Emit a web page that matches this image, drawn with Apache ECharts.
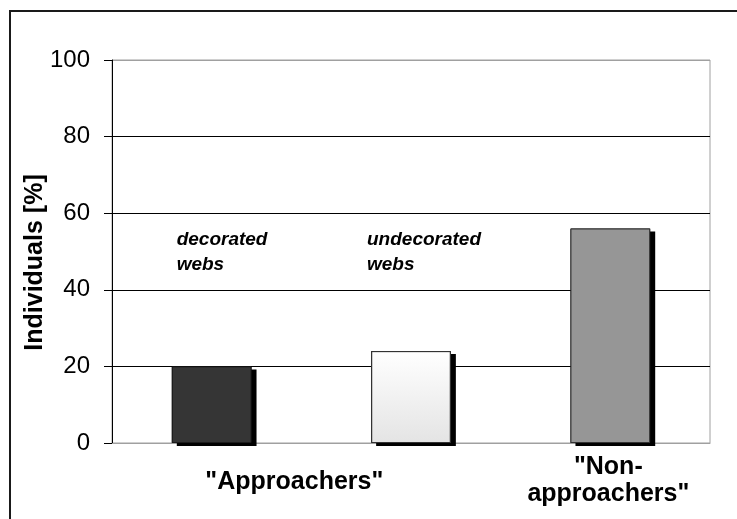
<!DOCTYPE html>
<html>
<head>
<meta charset="utf-8">
<script src="https://cdn.jsdelivr.net/npm/echarts@6/dist/echarts.min.js"></script>
<style>
html,body{margin:0;padding:0;background:#fff;}
#chart{width:737px;height:519px;}
</style>
</head>
<body>
<div id="chart"></div>
<script>
const categories = ['decorated webs', 'undecorated webs', 'Non-approachers'];
const values = [20, 24, 56];
const groupLabels = ['"Approachers"', '"Non-\napproachers"'];
const noteLabels = ['decorated\nwebs', 'undecorated\nwebs'];
const yTicks = [0, 20, 40, 60, 80, 100];
const yAxisTitle = 'Individuals [%]';

const barFills = [
  '#353535',
  { type: 'linear', x: 0, y: 0, x2: 0, y2: 1, colorStops: [{ offset: 0, color: '#ffffff' }, { offset: 1, color: '#e4e4e4' }] },
  '#969696'
];
const barBorders = ['#1c1c1c', '#333333', '#333333'];

const chart = echarts.init(document.getElementById('chart'));
const FONT = 'Liberation Sans, Arial, sans-serif';

chart.setOption({
  animation: false,
  grid: { left: 112, right: 27, top: 60, bottom: 76, show: true, borderColor: '#a0a0a0', borderWidth: 1, backgroundColor: 'transparent' },
  xAxis: {
    type: 'category',
    data: categories,
    axisLine: { show: true, lineStyle: { color: '#a0a0a0', width: 1 } },
    axisTick: { show: false },
    axisLabel: { show: false },
    splitLine: { show: false }
  },
  yAxis: {
    type: 'value',
    min: yTicks[0],
    max: yTicks[yTicks.length - 1],
    interval: 20,
    axisLine: { show: true, lineStyle: { color: '#000', width: 1 } },
    axisTick: { show: true, length: 8, lineStyle: { color: '#000', width: 1 } },
    axisLabel: { margin: 22, fontFamily: FONT, fontSize: 24, color: '#000' },
    splitLine: { show: true, lineStyle: { color: ['#a0a0a0', '#000', '#000', '#000', '#000', '#a0a0a0'], width: 1 } }
  },
  series: [
    {
      type: 'bar',
      barWidth: '40%',
      silent: true,
      z: 2,
      data: values.map((v, i) => ({
        value: v,
        itemStyle: {
          color: '#000',
          borderWidth: 0,
          shadowColor: '#000',
          shadowBlur: 0,
          shadowOffsetX: 5,
          shadowOffsetY: 3
        }
      }))
    },
    {
      type: 'bar',
      barWidth: '40%',
      barGap: '-100%',
      z: 3,
      data: values.map((v, i) => ({
        value: v,
        itemStyle: {
          color: barFills[i],
          borderColor: barBorders[i],
          borderWidth: 1
        }
      }))
    }
  ]
});

function px(idx, val) {
  return chart.convertToPixel({ gridIndex: 0 }, [idx, val]);
}
const p0 = px(0, 0), p1 = px(1, 0), p2 = px(2, 0);
const n0 = px(0, 50), n1 = px(1, 50);
const mid = px(0, 50);

chart.setOption({
  graphic: [
    { type: 'rect', silent: true, z: 100, shape: { x: 10, y: 11, width: 1000, height: 1000 }, style: { fill: 'none', stroke: '#1a1a1a', lineWidth: 2 } },
    { type: 'text', silent: true, x: 35, y: mid[1] + 11, rotation: Math.PI / 2, style: { text: yAxisTitle, font: 'bold 25px ' + FONT, fill: '#000', align: 'center', verticalAlign: 'middle' } },
    { type: 'text', silent: true, x: (p0[0] + p1[0]) / 2 - 17, y: 482, style: { text: groupLabels[0], font: 'bold 25px ' + FONT, fill: '#000', align: 'center', verticalAlign: 'middle' } },
    { type: 'text', silent: true, x: p2[0] - 2, y: 481, style: { text: groupLabels[1], font: 'bold 25px ' + FONT, fill: '#000', align: 'center', verticalAlign: 'middle', lineHeight: 27 } },
    { type: 'text', silent: true, x: n0[0] - 35, y: n0[1] + 1, style: { text: noteLabels[0], font: 'italic bold 19px ' + FONT, fill: '#000', align: 'left', verticalAlign: 'middle', lineHeight: 25 } },
    { type: 'text', silent: true, x: n1[0] - 44, y: n1[1] + 1, style: { text: noteLabels[1], font: 'italic bold 19px ' + FONT, fill: '#000', align: 'left', verticalAlign: 'middle', lineHeight: 25 } }
  ]
});
</script>
</body>
</html>
